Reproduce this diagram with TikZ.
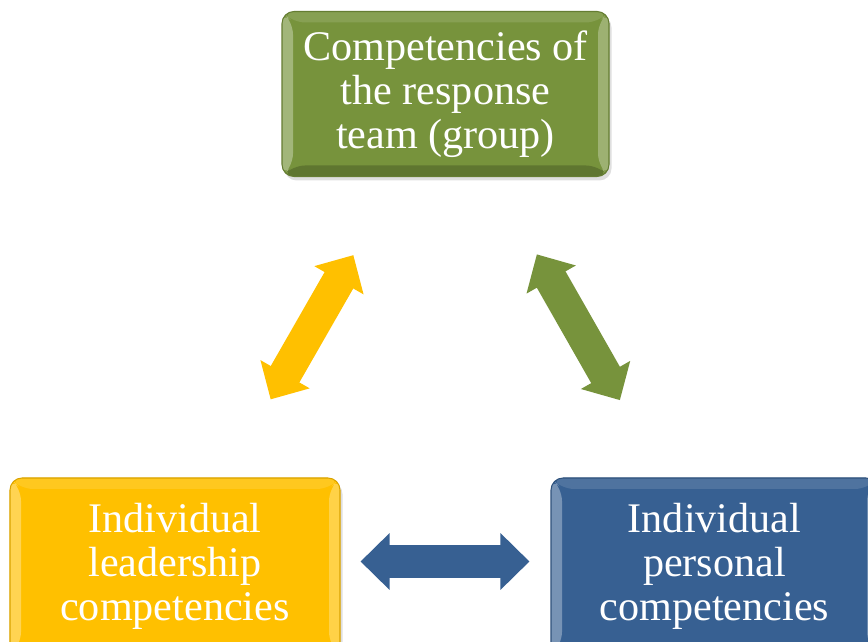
\documentclass[tikz,border=0pt]{standalone}
\usepackage{fontspec}
\setmainfont{Liberation Serif}
\usetikzlibrary{arrows.meta,shadows}
\definecolor{boxgreen}{RGB}{119,147,60}
\definecolor{boxyellow}{RGB}{255,192,0}
\definecolor{boxblue}{RGB}{55,96,146}

\begin{document}
\begin{tikzpicture}[
        comp/.style={rounded corners=0.24cm, fill=#1, draw=#1!85!black, line width=0.6pt,
            minimum width=6.54cm, minimum height=3.3cm, text=white, align=center,
            font=\fontsize{24}{25}\selectfont,
            drop shadow={opacity=0.25, shadow xshift=0.05cm, shadow yshift=-0.08cm},
            path picture={
                \coordinate (pnw) at (path picture bounding box.north west);
                \coordinate (pne) at (path picture bounding box.north east);
                \coordinate (psw) at (path picture bounding box.south west);
                \coordinate (pse) at (path picture bounding box.south east);
                \fill[#1!88!white] (pnw) -- (pne) -- ([shift={(-0.22,-0.22)}]pne) -- ([shift={(0.22,-0.22)}]pnw) -- cycle;
                \fill[#1!80!black] (psw) -- (pse) -- ([shift={(-0.22,0.22)}]pse) -- ([shift={(0.22,0.22)}]psw) -- cycle;
                \fill[#1!68!white] (pnw) -- ([shift={(0.22,-0.22)}]pnw) -- ([shift={(0.22,0.22)}]psw) -- (psw) -- cycle;
                \fill[#1!72!white] (pne) -- ([shift={(-0.22,-0.22)}]pne) -- ([shift={(-0.22,0.22)}]pse) -- (pse) -- cycle;
            }},
        link/.style={line width=0.66cm, draw=#1,
            {Triangle[length=0.58cm,width=1.1cm]}-{Triangle[length=0.58cm,width=1.1cm]}}
    ]
    \clip (0,0) rectangle (17.36,12.82);

    % Team (top)
    \node[comp=boxgreen] (team) at (8.91,10.94) {Competencies of\\the response\\team (group)};

    % Individual (bottom, running off the page)
    \node[comp=boxyellow, minimum width=6.6cm, minimum height=3.54cm] (lead) at (3.5,1.49)
        {Individual\\leadership\\competencies};
    \node[comp=boxblue, minimum height=3.54cm] (pers) at (14.29,1.49)
        {Individual\\personal\\competencies};

    % Arrows
    \draw[link=boxyellow, shorten <=1.8cm, shorten >=1.8cm] (lead) -- (team);
    \draw[link=boxgreen, shorten <=1.78cm, shorten >=1.78cm] (team) -- (pers);
    \draw[link=boxblue, shorten <=0.4cm, shorten >=0.42cm]
        ([yshift=0.1cm]lead.east) -- ([yshift=0.1cm]pers.west);
\end{tikzpicture}
\end{document}
